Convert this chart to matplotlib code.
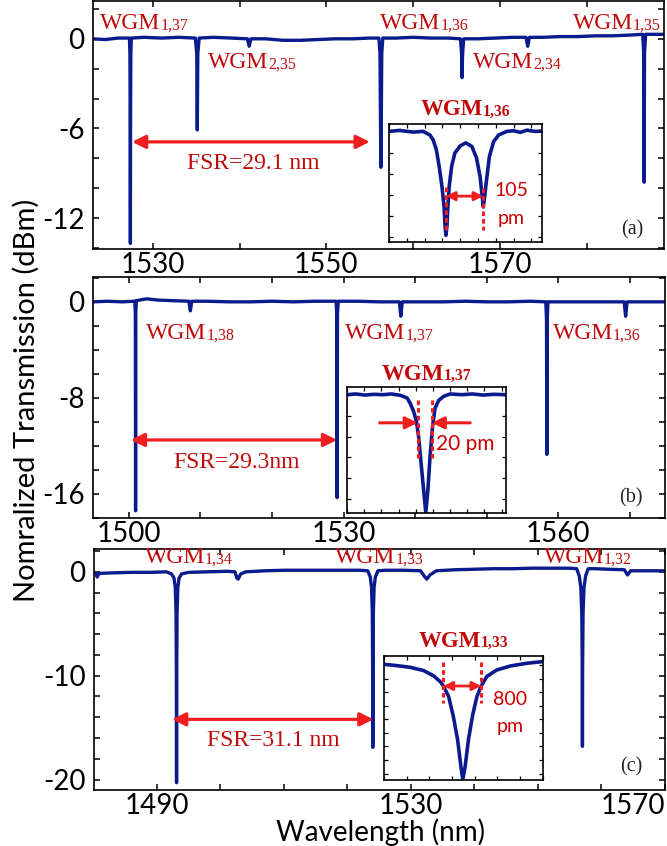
import numpy as np
import matplotlib
matplotlib.use('Agg')
import matplotlib.pyplot as plt
from matplotlib.ticker import MultipleLocator
from matplotlib.offsetbox import TextArea, HPacker, AnnotationBbox

plt.rcParams['font.family'] = ['Lato', 'DejaVu Sans']
plt.rcParams['axes.unicode_minus'] = False

NAVY = '#0b1a8c'
DARKRED = '#c00a0a'
RED = '#f01e1e'
SERIF = 'Liberation Serif'

# ---- panel (a): transmission trace (nm, dB)
wl_a = [1523.0, 1524.5, 1526.0, 1527.30, 1527.36, 1527.39, 1527.41, 1527.43, 1527.46, 1527.52,
        1529.0, 1531.0, 1533.0, 1534.9, 1535.06, 1535.12, 1535.18, 1535.34, 1537.0, 1539.0,
        1540.9, 1541.1, 1541.3, 1543.0, 1545.0, 1547.0, 1549.0, 1551.0, 1553.0, 1555.0,
        1556.05, 1556.18, 1556.24, 1556.28, 1556.32, 1556.38, 1556.5, 1558.0, 1560.0, 1562.0,
        1564.0, 1565.45, 1565.56, 1565.60, 1565.64, 1565.68, 1565.72, 1565.83, 1567.5, 1569.5,
        1571.5, 1573.0, 1573.2, 1573.4, 1575.0, 1577.0, 1579.0, 1581.0, 1583.0, 1585.0,
        1586.45, 1586.58, 1586.62, 1586.66, 1586.79, 1588.0, 1589.0]
db_a = [0.0, -0.05, 0.05, 0.05, -1.0, -5.3, -13.7, -5.3, -1.0, 0.05,
        0.1, 0.05, 0.1, 0.05, -1.0, -6.1, -1.0, 0.05, 0.1, 0.05,
        0.0, -0.5, 0.0, 0.0, -0.1, -0.1, -0.05, 0.0, 0.0, 0.05,
        0.05, -1.0, -6.0, -8.6, -6.0, -1.0, 0.05, 0.05, 0.1, 0.05,
        0.05, 0.0, -0.8, -1.3, -2.6, -1.3, -0.8, 0.0, 0.0, 0.05,
        0.1, 0.1, -0.5, 0.1, 0.1, 0.15, 0.15, 0.2, 0.2, 0.25,
        0.3, -1.0, -9.6, -1.0, 0.3, 0.3, 0.3]

# ---- panel (b)
wl_b = [1495.0, 1497.0, 1499.0, 1500.85, 1500.92, 1500.95, 1500.98, 1501.05, 1502.5, 1504.0,
        1506.0, 1508.4, 1508.6, 1508.8, 1511.0, 1514.0, 1517.0, 1520.0, 1523.0, 1526.0,
        1528.95, 1529.05, 1529.1, 1529.15, 1529.25, 1532.0, 1535.0, 1537.8, 1538.0, 1538.2,
        1541.0, 1544.0, 1547.0, 1550.0, 1553.0, 1556.0, 1558.25, 1558.35, 1558.4, 1558.45,
        1558.55, 1561.0, 1564.0, 1567.0, 1569.2, 1569.4, 1569.6, 1572.0, 1575.0]
db_b = [0.0, 0.05, 0.0, 0.05, -1.0, -17.4, -1.0, 0.1, 0.25, 0.15,
        0.1, 0.05, -0.75, 0.05, 0.05, 0.0, 0.0, 0.05, 0.0, 0.05,
        0.05, -1.0, -16.3, -1.0, 0.05, 0.05, 0.0, 0.0, -1.2, 0.0,
        0.0, 0.0, 0.05, 0.0, 0.0, 0.05, 0.0, -1.5, -12.7, -1.5,
        0.0, 0.0, 0.0, 0.0, 0.0, -1.2, 0.0, 0.0, 0.0]

# ---- panel (c)
wl_c = [1480.0, 1480.4, 1480.6, 1480.9, 1483.0, 1486.0, 1489.0, 1491.5, 1492.3, 1492.7,
        1492.9, 1493.02, 1493.07, 1493.1, 1493.13, 1493.18, 1493.3, 1493.5, 1493.9, 1495.0,
        1498.0, 1501.0, 1502.3, 1502.6, 1502.8, 1503.2, 1504.0, 1507.0, 1510.0, 1513.0,
        1516.0, 1519.0, 1522.0, 1523.2, 1523.6, 1523.8, 1523.92, 1523.97, 1524.0, 1524.03,
        1524.08, 1524.2, 1524.4, 1524.8, 1526.0, 1529.0, 1531.5, 1532.2, 1532.5, 1533.0,
        1534.0, 1537.0, 1540.0, 1543.0, 1546.0, 1549.0, 1552.0, 1555.0, 1556.1, 1556.5,
        1556.75, 1556.9, 1556.97, 1557.0, 1557.03, 1557.1, 1557.25, 1557.5, 1557.9, 1559.0,
        1561.0, 1563.6, 1564.1, 1564.6, 1566.0, 1568.0, 1570.0]
db_c = [-0.1, -0.15, -0.5, -0.15, -0.1, -0.05, -0.05, 0.0, -0.2, -0.6,
        -1.5, -4.0, -9.0, -20.3, -9.0, -4.0, -1.5, -0.6, -0.2, -0.05,
        0.0, 0.05, 0.0, -0.6, -0.7, -0.2, 0.0, 0.1, 0.15, 0.15,
        0.15, 0.15, 0.15, 0.1, -0.5, -1.5, -4.0, -9.0, -16.9, -9.0,
        -4.0, -1.5, -0.5, 0.1, 0.15, 0.15, 0.1, -0.5, -0.7, -0.3,
        0.1, 0.2, 0.25, 0.3, 0.3, 0.35, 0.35, 0.35, 0.3, -0.4,
        -1.5, -4.0, -9.0, -16.8, -9.0, -4.0, -1.5, -0.4, 0.3, 0.3,
        0.25, 0.2, -0.3, 0.1, 0.1, 0.1, 0.1]

# ---- insets (zoomed resonances)
ins_a_x = [0, 30, 68, 96, 115, 124, 133, 141, 149, 155, 157, 160, 163, 165, 169, 176, 185, 200,
           216, 233, 246, 256, 262, 265, 268, 273, 282, 294, 308, 331, 350, 369, 388, 410, 430]   # pm
ins_a_y = [0, 0.08, -0.06, 0, -0.3, -0.7, -1.5, -2.9, -4.6, -6.3, -7.6, -8.6, -7.8, -6.5, -4.6, -2.9, -1.8, -1.2,
           -0.95, -1.25, -2.2, -3.75, -5.4, -6.25, -5.6, -4.3, -2.1, -0.85, -0.3, 0, 0.05, -0.08, 0.1, 0.0, 0.02]

ins_b_x = [0, 12, 25, 38, 50, 62, 75, 84, 88, 93, 97, 100, 103, 107, 110, 113, 116, 119.5,
           123, 128, 135, 144, 160, 175, 190, 205, 222]   # pm
ins_b_y = [0, 0.1, -0.05, 0.05, 0.0, 0.1, -0.1, -0.46, -1.15, -2.3, -3.7, -5.8, -9.0, -13.2, -16.3, -13.2, -8.5, -4.4,
           -1.85, -0.8, -0.23, 0.1, 0.0, 0.1, -0.05, 0.05, 0.0]

ins_c_x = [0, 0.27, 0.55, 0.84, 1.05, 1.19, 1.26, 1.37, 1.47, 1.56, 1.63, 1.67, 1.72, 1.79,
           1.88, 1.97, 2.06, 2.18, 2.39, 2.68, 3.03, 3.37]   # nm
ins_c_y = [0.1, -0.1, -0.34, -0.83, -1.6, -2.45, -3.1, -4.65, -7.6, -11.0, -14.95, -16.9, -14.95, -11.0,
           -7.35, -4.65, -3.1, -1.7, -0.74, -0.15, 0.25, 0.5]


def wgm_label(ax, x, y, sub, size=17, bold=False, coords='data', align=(0, 0.5)):
    props = dict(color=DARKRED, family=SERIF, weight='bold' if bold else 'normal')
    big = TextArea('WGM', textprops=dict(size=size, **props))
    small = TextArea(sub, textprops=dict(size=size * 0.68, **props))
    box = HPacker(children=[big, small], align='baseline', pad=0, sep=0)
    ab = AnnotationBbox(box, (x, y), xycoords=coords, box_alignment=align,
                        frameon=False, pad=0, annotation_clip=False)
    ax.add_artist(ab)


def style_main(ax, xlim, ylim, xt, yt, ymin):
    ax.set_xlim(*xlim)
    ax.set_ylim(*ylim)
    ax.set_xticks(xt)
    ax.set_yticks(yt)
    ax.xaxis.set_minor_locator(MultipleLocator(10))
    ax.yaxis.set_minor_locator(MultipleLocator(ymin))
    ax.tick_params(which='both', direction='in', top=True, right=True, length=4.5, width=1.1,
                   labelsize=20, pad=2)
    ax.tick_params(axis='y', pad=6)
    for s in ax.spines.values():
        s.set_linewidth(1.2)


def fsr(ax, x0, x1, y, txt, tx, ty):
    ax.annotate('', xy=(x1, y), xytext=(x0, y),
                arrowprops=dict(arrowstyle='<|-|>', color=RED, lw=2.3, mutation_scale=20,
                                shrinkA=0, shrinkB=0))
    ax.text(tx, ty, txt, color=DARKRED, family=SERIF, size=17, ha='center', va='center')


def style_inset(ax, xlim, ylim, xstep, ystep):
    ax.set_xlim(*xlim)
    ax.set_ylim(*ylim)
    ax.xaxis.set_major_locator(MultipleLocator(xstep))
    ax.yaxis.set_major_locator(MultipleLocator(ystep))
    ax.tick_params(direction='in', top=True, right=True, length=3, width=0.9,
                   labelbottom=False, labelleft=False)
    for s in ax.spines.values():
        s.set_linewidth(1.2)


fig = plt.figure(figsize=(6.67, 8.46), dpi=100)

# ---------------- (a)
ax1 = fig.add_axes([0.1394, 0.7057, 0.856, 0.2931])
ax1.plot(wl_a, db_a, color=NAVY, lw=2.4)
style_main(ax1, (1523.1, 1588.9), (-14.07, 2.53), [1530, 1550, 1570], [-12, -6, 0], 2)
wgm_label(ax1, 1523.9, 1.0, '1,37')
wgm_label(ax1, 1536.3, -1.6, '2,35')
wgm_label(ax1, 1556.2, 1.0, '1,36')
wgm_label(ax1, 1566.9, -1.6, '2,34')
wgm_label(ax1, 1578.4, 1.0, '1,35')
fsr(ax1, 1527.6, 1555.0, -6.9, 'FSR=29.1 nm', 1541.6, -8.35)
ax1.text(1585.3, -12.8, '(a)', family=SERIF, size=14.5, color='#222222', ha='center', va='center')

in1 = fig.add_axes([0.5832, 0.7139, 0.2294, 0.1395])
in1.plot(ins_a_x, ins_a_y, color=NAVY, lw=2.6)
style_inset(in1, (0, 430), (-9.16, 0.61), 50, 1.75)
in1.plot([160, 160], [-4.6, -8.3], color=RED, lw=2.2, ls=(0, (1.5, 1)))
in1.plot([265, 265], [-4.7, -8.2], color=RED, lw=2.2, ls=(0, (1.5, 1)))
in1.annotate('', xy=(265, -5.36), xytext=(160, -5.36),
             arrowprops=dict(arrowstyle='<|-|>', color=RED, lw=2, mutation_scale=13, shrinkA=0, shrinkB=0))
in1.text(343, -4.86, '105', color='#cc0000', size=14, ha='center', va='center')
in1.text(343, -7.22, 'pm', color='#cc0000', size=14, ha='center', va='center')
wgm_label(in1, 0.5, 1.03, '1,36', size=16.5, bold=True, coords='axes fraction', align=(0.5, 0))

# ---------------- (b)
ax2 = fig.add_axes([0.1394, 0.3877, 0.8576, 0.2849])
ax2.plot(wl_b, db_b, color=NAVY, lw=2.4)
style_main(ax2, (1495.0, 1574.9), (-18.0, 2.07), [1500, 1530, 1560], [-16, -8, 0], 2)
wgm_label(ax2, 1502.4, -2.65, '1,38')
wgm_label(ax2, 1530.2, -2.65, '1,37')
wgm_label(ax2, 1559.2, -2.65, '1,36')
fsr(ax2, 1500.3, 1529.1, -11.5, 'FSR=29.3nm', 1515.1, -13.4)
ax2.text(1570.1, -16.3, '(b)', family=SERIF, size=14.5, color='#222222', ha='center', va='center')

in2 = fig.add_axes([0.5202, 0.3936, 0.2384, 0.1489])
in2.plot(ins_b_x, ins_b_y, color=NAVY, lw=2.6)
style_inset(in2, (0, 222), (-16.4, 1.06), 24, 2.9)
for xd in (98.6, 118.6):
    in2.plot([xd, xd], [-0.69, -8.8], color=RED, lw=2.2, ls=(0, (1.5, 1)))
in2.annotate('', xy=(98.6, -3.9), xytext=(45.6, -3.9),
             arrowprops=dict(arrowstyle='-|>', color=RED, lw=2.2, mutation_scale=18, shrinkA=0, shrinkB=0))
in2.annotate('', xy=(118.6, -3.9), xytext=(172, -3.9),
             arrowprops=dict(arrowstyle='-|>', color=RED, lw=2.2, mutation_scale=18, shrinkA=0, shrinkB=0))
in2.text(124.6, -6.9, '20 pm', color='#cc0000', size=15, ha='left', va='center')
wgm_label(in2, 0.5, 1.02, '1,37', size=16.5, bold=True, coords='axes fraction', align=(0.5, 0))

# ---------------- (c)
ax3 = fig.add_axes([0.1409, 0.0662, 0.8561, 0.2849])
ax3.plot(wl_c, db_c, color=NAVY, lw=2.4)
style_main(ax3, (1480.1, 1569.8), (-21.0, 2.2), [1490, 1530, 1570], [-20, -10, 0], 2)
ax3.xaxis.get_major_ticks()[-1].label1.set_horizontalalignment('right')
wgm_label(ax3, 1488.1, 1.35, '1,34')
wgm_label(ax3, 1518.1, 1.35, '1,33')
wgm_label(ax3, 1550.9, 1.35, '1,32')
fsr(ax3, 1492.4, 1524.1, -14.2, 'FSR=31.1 nm', 1508.4, -16.2)
ax3.text(1564.7, -18.8, '(c)', family=SERIF, size=14.5, color='#222222', ha='center', va='center')

in3 = fig.add_axes([0.5757, 0.0780, 0.2384, 0.1466])
in3.plot(ins_c_x, ins_c_y, color=NAVY, lw=2.6)
style_inset(in3, (0, 3.37), (-16.95, 1.32), 0.48, 2)
for xd in (1.26, 2.06):
    in3.plot([xd, xd], [0.49, -5.6], color=RED, lw=2.2, ls=(0, (1.5, 1)))
in3.annotate('', xy=(2.06, -3.1), xytext=(1.26, -3.1),
             arrowprops=dict(arrowstyle='<|-|>', color=RED, lw=2, mutation_scale=13, shrinkA=0, shrinkB=0))
in3.text(2.68, -5.15, '800', color='#cc0000', size=14, ha='center', va='center')
in3.text(2.68, -9.1, 'pm', color='#cc0000', size=14, ha='center', va='center')
wgm_label(in3, 0.5, 1.03, '1,33', size=16.5, bold=True, coords='axes fraction', align=(0.5, 0))

fig.text(0.039, 0.527, 'Nomralized Transmission (dBm)', rotation=90, size=21, ha='center', va='center')
fig.text(0.571, 1 - 841 / 846, 'Wavelength (nm)', size=20, ha='center', va='baseline')

fig.savefig('out.png', dpi=100)
